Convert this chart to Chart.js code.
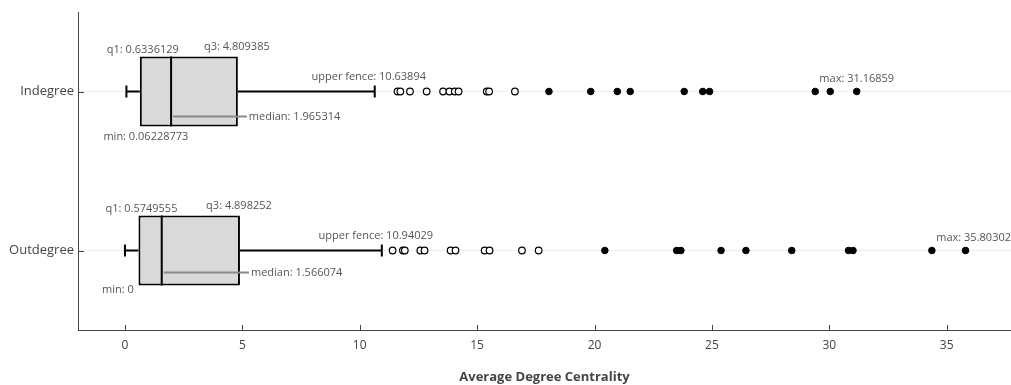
<!DOCTYPE html>
<html>
<head>
<meta charset="utf-8">
<script src="https://cdn.jsdelivr.net/npm/chart.js@4.4.0/dist/chart.umd.min.js"></script>
<style>
  html, body { margin: 0; padding: 0; background: #fff; }
</style>
</head>
<body>
<canvas id="graficoCaja" width="1011" height="385"></canvas>
<script>
// Datos
const categorias = ['Indegree', 'Outdegree'];
const minimos = [0.06228773, 0];
const q1s = [0.6336129, 0.5749555];
const medianas = [1.965314, 1.566074];
const q3s = [4.809385, 4.898252];
const cercasSup = [10.63894, 10.94029];
const maximos = [31.16859, 35.80302];

// Outliers sospechosos (círculos vacíos) y outliers (círculos llenos)
const sospechososIn = [11.61, 11.73, 12.14, 12.85, 13.55, 13.82, 14.05, 14.21, 15.41, 15.51, 16.61];
const outliersIn = [18.06, 19.84, 20.97, 21.52, 23.82, 24.61, 24.90, 29.40, 30.04, 31.16859];
const sospechososOut = [11.40, 11.84, 11.92, 12.58, 12.76, 13.87, 14.08, 15.32, 15.53, 16.91, 17.62];
const outliersOut = [20.44, 23.50, 23.68, 25.39, 26.45, 28.40, 30.82, 31.01, 34.37, 35.80302];

const ticksX = [0, 5, 10, 15, 20, 25, 30, 35];

const aPuntos = (valores, cat) => valores.map(v => ({ x: v, y: cat }));

// Pequeños ajustes de las etiquetas de min (plotly las separa distinto)
const ajusteMin = { Indegree: 10, Outdegree: 4 };

// Plugin que dibuja bigotes, mediana, ticks internos y etiquetas
const pluginCaja = {
    id: 'pluginCaja',
    afterDatasetsDraw(chart) {
        const ctx = chart.ctx;
        const sx = chart.scales.x;
        const sy = chart.scales.y;
        const meta = chart.getDatasetMeta(0);
        const area = chart.chartArea;

        ctx.save();
        // ticks internos
        ctx.strokeStyle = '#444';
        ctx.lineWidth = 1;
        ticksX.forEach(t => {
            const px = Math.round(sx.getPixelForValue(t)) + 0.5;
            ctx.beginPath();
            ctx.moveTo(px, area.bottom);
            ctx.lineTo(px, area.bottom - 5);
            ctx.stroke();
        });
        categorias.forEach((c, i) => {
            const py = Math.round(sy.getPixelForValue(i)) + 0.5;
            ctx.beginPath();
            ctx.moveTo(area.left, py);
            ctx.lineTo(area.left + 6, py);
            ctx.stroke();
        });

        categorias.forEach((c, i) => {
            const barra = meta.data[i];
            const yc = barra.y;
            const arriba = yc - barra.height / 2;
            const abajo = yc + barra.height / 2;
            const pMin = sx.getPixelForValue(minimos[i]);
            const pQ1 = sx.getPixelForValue(q1s[i]);
            const pMed = sx.getPixelForValue(medianas[i]);
            const pQ3 = sx.getPixelForValue(q3s[i]);
            const pCerca = sx.getPixelForValue(cercasSup[i]);
            const pMax = sx.getPixelForValue(maximos[i]);

            ctx.strokeStyle = '#000';
            ctx.lineWidth = 2;
            ctx.beginPath();
            // bigote inferior
            ctx.moveTo(pMin, yc); ctx.lineTo(pQ1, yc);
            ctx.moveTo(pMin, yc - 6); ctx.lineTo(pMin, yc + 6);
            // bigote superior
            ctx.moveTo(pQ3, yc); ctx.lineTo(pCerca, yc);
            ctx.moveTo(pCerca, yc - 6); ctx.lineTo(pCerca, yc + 6);
            // mediana
            ctx.moveTo(pMed, arriba); ctx.lineTo(pMed, abajo);
            ctx.stroke();

            // línea gris de la etiqueta de la mediana
            const yMedEt = yc + (i === 0 ? 25 : 22);
            ctx.strokeStyle = '#888';
            ctx.lineWidth = 2;
            ctx.beginPath();
            ctx.moveTo(pMed + 2, yMedEt);
            ctx.lineTo(pQ3 + 9, yMedEt);
            ctx.stroke();

            // etiquetas
            ctx.font = '11px "Open Sans"';
            ctx.fillStyle = '#555';
            ctx.textBaseline = 'middle';
            ctx.textAlign = 'center';
            ctx.fillText('q1: ' + q1s[i], pQ1 + 3, yc - 42);
            ctx.fillText('q3: ' + q3s[i], pQ3 - 1, yc - 45);
            ctx.fillText('upper fence: ' + cercasSup[i], pCerca - 6, yc - 15);
            // la etiqueta del max se pega al borde derecho si no cabe
            const txtMax = 'max: ' + maximos[i];
            const ancho = ctx.measureText(txtMax).width;
            let cx = pMax;
            if (cx + ancho / 2 > chart.width - 10) cx = chart.width - ancho / 2;
            ctx.fillText(txtMax, cx, yc - 13);
            ctx.textAlign = 'left';
            ctx.fillText('min: ' + minimos[i], pMin - 23, abajo + ajusteMin[c]);
            ctx.fillText('median: ' + medianas[i], pQ3 + 11, yMedEt);
        });
        ctx.restore();
    }
};

const ctx = document.getElementById('graficoCaja').getContext('2d');
const grafico = new Chart(ctx, {
    type: 'bar',
    data: {
        labels: categorias,
        datasets: [
            {
                label: 'caja',
                data: categorias.map((c, i) => [q1s[i], q3s[i]]),
                backgroundColor: '#d9d9d9',
                borderColor: '#000',
                borderWidth: 2,
                borderSkipped: false,
                barPercentage: 0.44,
                categoryPercentage: 1,
                order: 2
            },
            {
                type: 'scatter',
                data: aPuntos(sospechososIn, 'Indegree').concat(aPuntos(sospechososOut, 'Outdegree')),
                backgroundColor: '#fff',
                borderColor: '#000',
                borderWidth: 1.2,
                pointRadius: 3.3,
                order: 1
            },
            {
                type: 'scatter',
                data: aPuntos(outliersIn, 'Indegree').concat(aPuntos(outliersOut, 'Outdegree')),
                backgroundColor: '#000',
                borderColor: '#000',
                borderWidth: 1,
                pointRadius: 3.3,
                order: 1
            }
        ]
    },
    options: {
        indexAxis: 'y',
        responsive: false,
        animation: false,
        events: [],
        layout: { autoPadding: false, padding: { top: 12, left: 0, right: 0, bottom: 0 } },
        plugins: {
            legend: { display: false },
            tooltip: { enabled: false }
        },
        scales: {
            x: {
                type: 'linear',
                min: -2,
                max: 37.74,
                afterBuildTicks: scale => { scale.ticks = ticksX.map(v => ({ value: v })); },
                afterFit: scale => {
                    scale.height = 55;
                    scale.paddingLeft = 0;
                    scale.paddingRight = 0;
                },
                grid: { display: false, drawTicks: false },
                border: { display: true, color: '#444', width: 1 },
                ticks: {
                    padding: 8,
                    color: '#444',
                    font: { family: 'Open Sans', size: 12 }
                },
                title: {
                    display: true,
                    text: 'Average Degree Centrality',
                    color: '#444',
                    font: { family: 'Open Sans', size: 13, weight: 'bold' },
                    padding: { top: 0, bottom: 0 }
                }
            },
            y: {
                type: 'category',
                labels: categorias,
                offset: true,
                afterFit: scale => {
                    scale.width = 78;
                    scale.paddingTop = 0;
                    scale.paddingBottom = 0;
                },
                grid: { display: true, offset: false, drawTicks: false, color: '#eee', lineWidth: 1 },
                border: { display: true, color: '#444', width: 1 },
                ticks: {
                    padding: 4,
                    color: '#444',
                    font: { family: 'Open Sans', size: 13 }
                }
            }
        }
    },
    plugins: [pluginCaja]
});
</script>
</body>
</html>
